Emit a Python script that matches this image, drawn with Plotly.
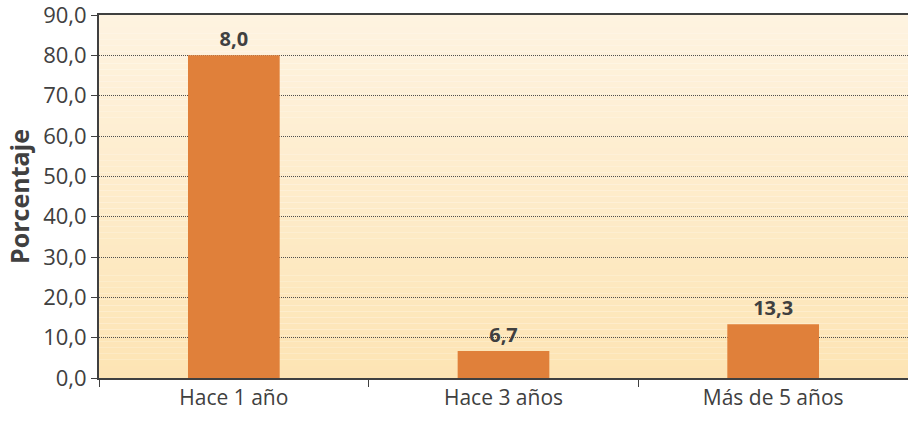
import plotly.graph_objects as go

# ── Data ──────────────────────────────────────
categories = ["Hace 1 año", "Hace 3 años", "Más de 5 años"]
values = [80.0, 6.7, 13.3]
bar_labels = ["8,0", "6,7", "13,3"]
y_ticks = [0, 10, 20, 30, 40, 50, 60, 70, 80, 90]

BAR_COLOR = "#E0803A"
TEXT_COLOR = "#404040"
FONT = "Open Sans"

fig = go.Figure(go.Bar(
    x=categories, y=values,
    marker=dict(color=BAR_COLOR, line=dict(width=0)),
    width=0.34,
    text=bar_labels,
    textposition="outside",
    textfont=dict(size=20, color=TEXT_COLOR, family=FONT, weight="bold"),
    cliponaxis=False,
))

# vertical gradient background (cream at top to light orange at bottom)
n_strips = 60
top = (254, 243, 224)
bot = (253, 228, 180)
for i in range(n_strips):
    t = i / (n_strips - 1)
    c = tuple(round(top[k] + (bot[k] - top[k]) * t) for k in range(3))
    fig.add_shape(
        type="rect", xref="paper", yref="paper",
        x0=0, x1=1,
        y0=1 - (i + 1) / n_strips, y1=1 - i / n_strips,
        fillcolor=f"rgb{c}", line=dict(width=0), layer="below",
    )

fig.update_layout(
    width=908, height=425,
    margin=dict(l=99, r=0, t=15, b=47, autoexpand=False),
    paper_bgcolor="white",
    plot_bgcolor="rgba(0,0,0,0)",
    separators=", ",
    font=dict(family=FONT, color=TEXT_COLOR, size=20),
    showlegend=False,
    xaxis=dict(
        automargin=False,
        showline=True, linecolor=TEXT_COLOR, linewidth=2, mirror=True,
        ticks="outside", tickson="boundaries", ticklen=7, tickcolor=TEXT_COLOR,
        tickfont=dict(size=21),
        showgrid=False,
    ),
    yaxis=dict(
        automargin=False,
        range=[0, 90], tickvals=y_ticks, tickformat=".1f",
        ticklabeloverflow="allow",
        showline=True, linecolor=TEXT_COLOR, linewidth=2,
        ticks="outside", ticklen=6, tickcolor=TEXT_COLOR,
        tickfont=dict(size=22),
        showgrid=True, gridcolor="#505050", gridwidth=1, griddash="1px,1px",
        zeroline=False,
        title=dict(text="<b>Porcentaje</b>", font=dict(size=25), standoff=6),
    ),
)

# drop the default 8px page margin so the figure fills the window exactly
fig.write_html(
    "out.html",
    config={"displayModeBar": False},
    post_script="document.body.style.margin='0';",
)
